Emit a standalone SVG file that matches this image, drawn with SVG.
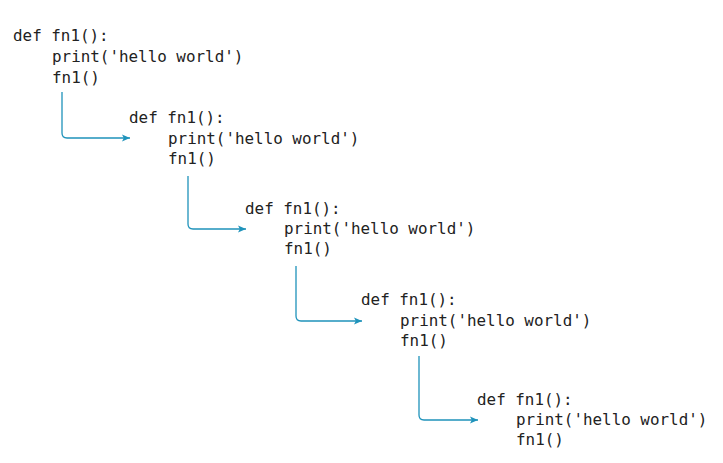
<svg xmlns="http://www.w3.org/2000/svg" width="723" height="463" viewBox="0 0 723 463">
  <style>
    .code { font-family: "DejaVu Sans Mono", "Liberation Mono", monospace; font-size: 15.9px; fill: #222222; white-space: pre; }
    .link { fill: none; stroke: #1f93bb; stroke-width: 1.3; marker-end: url(#tip); }
  </style>
  <defs>
    <marker id="tip" viewBox="0 0 8 8" refX="8" refY="4" markerWidth="8" markerHeight="8" markerUnits="userSpaceOnUse" orient="auto">
      <path d="M0,0.5 L8,4 L0,7.5 L1.8,4 Z" fill="#1f93bb"/>
    </marker>
  </defs>
  <rect width="723" height="463" fill="#ffffff"/>

  <!-- recursive call links -->
  <g id="connectors">
    <path class="link" d="M62 92 V133 Q62 138 67 138 H130"/>
    <path class="link" d="M188 176 V224 Q188 229 193 229 H246"/>
    <path class="link" d="M296 266 V316 Q296 321 301 321 H362"/>
    <path class="link" d="M419 356 V415 Q419 420 424 420 H478"/>
  </g>

  <g id="call1">
    <text class="code" x="13" y="41">def fn1():</text>
    <text class="code" x="52" y="62">print('hello world')</text>
    <text class="code" x="52" y="83">fn1()</text>
  </g>
  <g id="call2">
    <text class="code" x="129" y="123">def fn1():</text>
    <text class="code" x="168" y="143.5">print('hello world')</text>
    <text class="code" x="168" y="164">fn1()</text>
  </g>
  <g id="call3">
    <text class="code" x="245" y="214">def fn1():</text>
    <text class="code" x="284" y="234">print('hello world')</text>
    <text class="code" x="284" y="254">fn1()</text>
  </g>
  <g id="call4">
    <text class="code" x="361" y="305">def fn1():</text>
    <text class="code" x="400" y="326">print('hello world')</text>
    <text class="code" x="400" y="346">fn1()</text>
  </g>
  <g id="call5">
    <text class="code" x="477" y="405">def fn1():</text>
    <text class="code" x="516" y="425">print('hello world')</text>
    <text class="code" x="516" y="445">fn1()</text>
  </g>
</svg>
